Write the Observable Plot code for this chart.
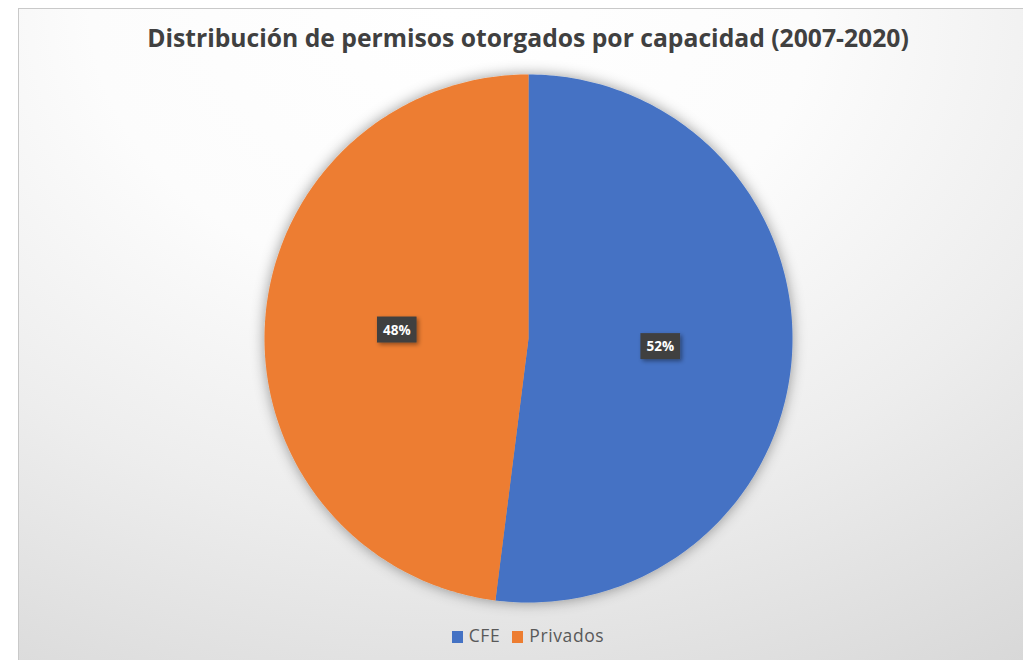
<!DOCTYPE html>
<html><head><meta charset="utf-8">
<script src="https://cdn.jsdelivr.net/npm/d3@7"></script>
<script src="https://cdn.jsdelivr.net/npm/@observablehq/plot@0.6"></script>
<style>
body{margin:0;background:#fff;}
#wrap{position:relative;width:1023px;height:660px;overflow:hidden;background:#fff;}
#frame{position:absolute;left:18px;top:8px;width:1030px;height:680px;border:1px solid #c9c9c9;
  background:radial-gradient(ellipse 100% 115% at 42% 0%, #ffffff 0%, #fcfcfc 35%, #ededed 65%, #d8d8d8 100%);}
#title{position:absolute;left:0;top:21px;width:1056px;text-align:center;font-family:"Open Sans",sans-serif;font-weight:700;font-size:24.7px;color:#404040;}
#legend{position:absolute;left:0;top:623px;width:1056px;text-align:center;font-family:"Open Sans",sans-serif;font-size:17.5px;color:#595959;letter-spacing:0.6px;}
#legend span.sw{display:inline-block;width:11px;height:12px;margin-right:6px;vertical-align:-1px;}
#legend span.it{margin:0 6px;}
#chart{position:absolute;left:0;top:0;}
#chart svg{background:transparent;}
</style></head>
<body>
<div id="wrap">
  <div id="frame"></div>
  <div id="title">Distribución de permisos otorgados por capacidad (2007-2020)</div>
  <div id="chart"></div>
  <div id="legend"></div>
</div>
<script>
const categories = ["CFE", "Privados"];
const values = [52, 48];
const colors = ["#4472C4", "#ED7D31"];

const arcs = d3.pie().sort(null)(values);
const slicePts = [];
arcs.forEach((a, i) => {
  slicePts.push({cat: categories[i], x: 0, y: 0});
  const n = 200;
  for (let k = 0; k <= n; k++) {
    const t = a.startAngle + (a.endAngle - a.startAngle) * k / n;
    slicePts.push({cat: categories[i], x: Math.sin(t), y: Math.cos(t)});
  }
});
const labels = arcs.map((a, i) => {
  const m = (a.startAngle + a.endAngle) / 2;
  return {cat: categories[i], x: 0.5 * Math.sin(m), y: 0.5 * Math.cos(m), text: values[i] + "%"};
});

const chart = Plot.plot({
  width: 1023, height: 660,
  marginLeft: 264, marginRight: 231, marginTop: 74, marginBottom: 58,
  x: {domain: [-1, 1], axis: null},
  y: {domain: [-1, 1], axis: null},
  color: {domain: categories, range: colors},
  style: {background: "transparent", overflow: "visible"},
  marks: [
    Plot.line(slicePts, {x: "x", y: "y", z: "cat", fill: "cat", stroke: null, curve: "linear-closed"}),
    Plot.text(labels, {x: "x", y: "y", text: "text", fill: "white", fontWeight: "bold", fontSize: 13.5, fontFamily: "Open Sans, sans-serif"})
  ]
});
document.getElementById("chart").appendChild(chart);

// shadow filter and label boxes
const ns = "http://www.w3.org/2000/svg";
const defs = document.createElementNS(ns, "defs");
defs.innerHTML = `<filter id="sh" x="-20%" y="-20%" width="140%" height="140%"><feDropShadow dx="0" dy="0" stdDeviation="7" flood-color="#000" flood-opacity="0.4"/></filter>
<filter id="sh2" x="-30%" y="-30%" width="160%" height="160%"><feDropShadow dx="2" dy="2" stdDeviation="2" flood-color="#000" flood-opacity="0.4"/></filter>`;
chart.insertBefore(defs, chart.firstChild);
const lg = chart.querySelector('g[aria-label="line"]');
if (lg) lg.setAttribute("filter", "url(#sh)");
chart.querySelectorAll('g[aria-label="text"] text').forEach(t => {
  const b = t.getBBox();
  const r = document.createElementNS(ns, "rect");
  r.setAttribute("x", b.x - 6); r.setAttribute("y", b.y - 4);
  r.setAttribute("width", b.width + 12); r.setAttribute("height", b.height + 8);
  r.setAttribute("fill", "#404040");
  r.setAttribute("filter", "url(#sh2)");
  const tr = t.getAttribute("transform");
  if (tr) r.setAttribute("transform", tr);
  t.parentNode.insertBefore(r, t);
});

const leg = document.getElementById("legend");
categories.forEach((c, i) => {
  const s = document.createElement("span"); s.className = "it";
  s.innerHTML = `<span class="sw" style="background:${colors[i]}"></span>${c}`;
  leg.appendChild(s);
});
</script>
</body></html>
